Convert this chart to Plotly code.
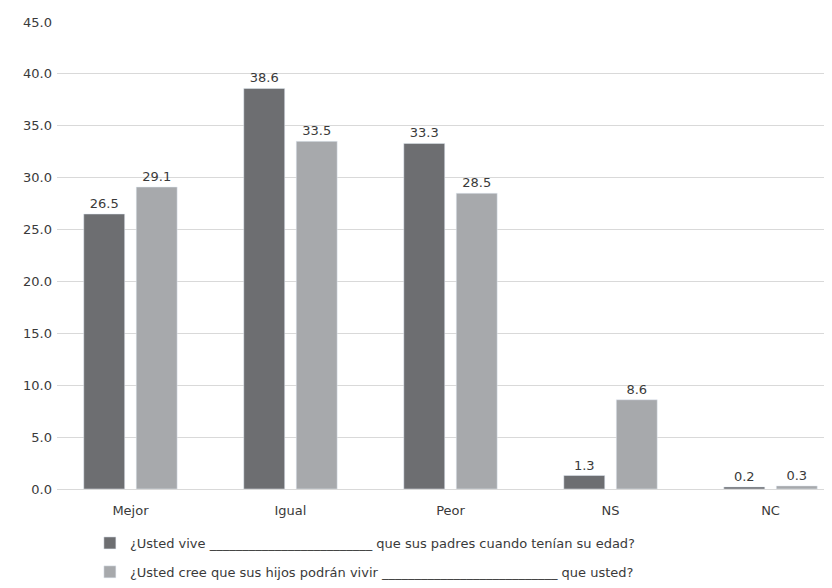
import plotly.graph_objects as go

categories = ["Mejor", "Igual", "Peor", "NS", "NC"]
serie1_name = "¿Usted vive _________________________ que sus padres cuando tenían su edad?"
serie2_name = "¿Usted cree que sus hijos podrán vivir ___________________________ que usted?"
serie1 = [26.5, 38.6, 33.3, 1.3, 0.2]
serie2 = [29.1, 33.5, 28.5, 8.6, 0.3]
y_ticks = [0, 5, 10, 15, 20, 25, 30, 35, 40, 45]

FONT = "DejaVu Sans, Open Sans, sans-serif"
TXT = "#3a3a3a"

fig = go.Figure()
fig.add_trace(go.Bar(
    x=categories, y=serie1, name=serie1_name, legendgroup="a",
    marker_color="#6d6e71",
    text=[f"{v:.1f}" for v in serie1], textposition="outside",
    textfont=dict(size=13, color=TXT), cliponaxis=False,
))
fig.add_trace(go.Bar(
    x=categories, y=serie2, name=serie2_name, legendgroup="b",
    marker_color="#a7a9ac",
    text=[f"{v:.1f}" for v in serie2], textposition="outside",
    textfont=dict(size=13, color=TXT), cliponaxis=False,
))

fig.update_layout(
    width=832, height=588,
    margin=dict(l=49, r=0, t=14, b=107),
    paper_bgcolor="white", plot_bgcolor="white",
    font=dict(family=FONT, size=13, color=TXT),
    barmode="group", bargap=0.344, bargroupgap=0.22,
    showlegend=True,
    legend=dict(
        orientation="v", x=0.042, xanchor="left", y=-0.0835, yanchor="top",
        font=dict(family=FONT, size=13, color=TXT), tracegroupgap=9,
        bgcolor="rgba(0,0,0,0)",
    ),
    xaxis=dict(
        range=[-0.459, 4.434], showline=False, ticks="",
        tickfont=dict(size=13), ticklabelstandoff=12,
    ),
    yaxis=dict(
        range=[0, 45], tickvals=y_ticks,
        ticktext=[f"{v:.1f}" for v in y_ticks],
        showgrid=True, gridcolor="#d9d9d9", gridwidth=1,
        zeroline=True, zerolinecolor="#d9d9d9", zerolinewidth=1,
        tickfont=dict(size=13), ticklabelstandoff=4,
    ),
)

fig.write_html("out.html")
